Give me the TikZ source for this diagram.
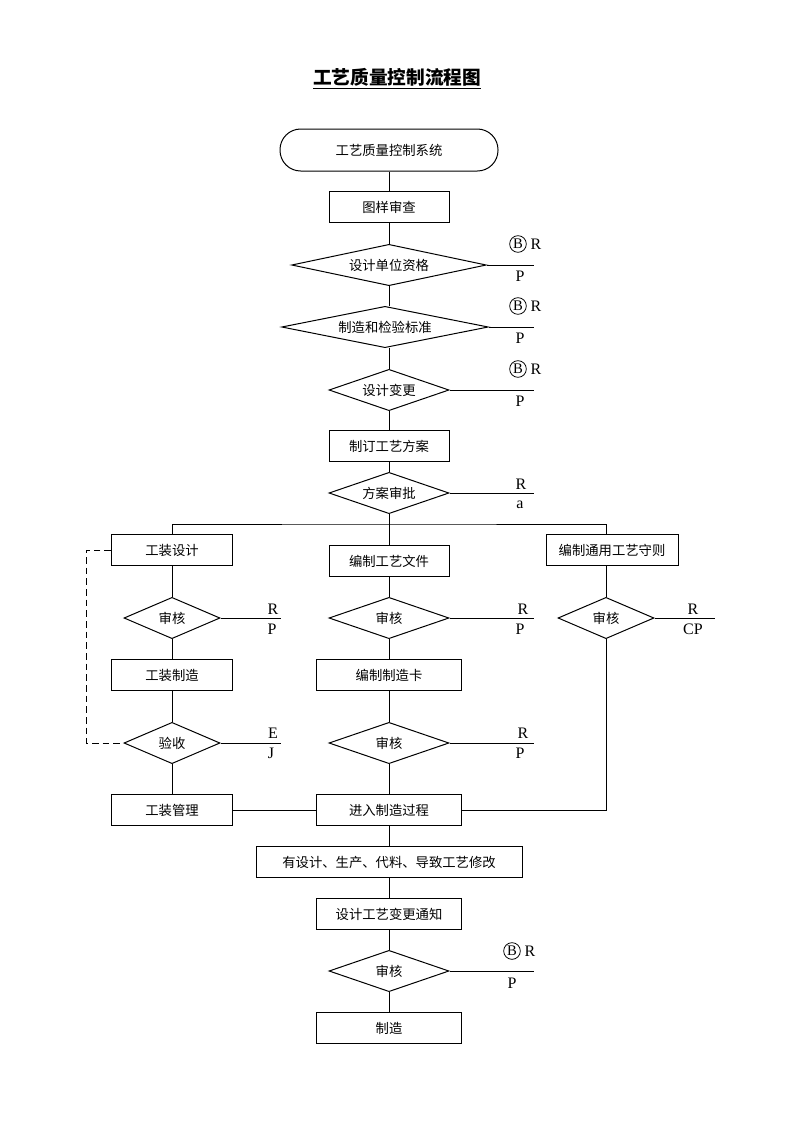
\documentclass[tikz,border=0pt]{standalone}
\usepackage{fontspec}
\setmainfont{Liberation Serif}
\newfontfamily\cjk{Noto Sans CJK SC}
\usetikzlibrary{shapes.geometric}
\begin{document}
\begin{tikzpicture}[x=0.75pt,y=-0.75pt,line width=0.75pt,
  box/.style={draw,rectangle,minimum height=23.25pt,inner sep=0pt,font=\cjk\fontsize{10}{12}\selectfont},
  dia/.style={draw,diamond,shape aspect=4,inner sep=0pt,minimum width=90pt,minimum height=31pt,font=\cjk\fontsize{10}{12}\selectfont},
  lbl/.style={inner sep=0pt,font=\fontsize{12}{14}\selectfont},
  bc/.style={draw,circle,inner sep=0pt,minimum size=12.5pt,line width=0.6pt,font=\fontsize{11}{12}\selectfont}]
\useasboundingbox (0,0) rectangle (793,1122);
% title
\node[font=\cjk\bfseries\fontsize{14}{16}\selectfont,inner sep=0pt] (title) at (397,79) {\underline{工艺质量控制流程图}};
% main column
\node[draw,rounded corners=15.5pt,minimum width=163.5pt,minimum height=31.5pt,inner sep=0pt,font=\cjk\fontsize{10}{12}\selectfont] (sys) at (389,150) {工艺质量控制系统};
\node[box,minimum width=90pt] (tyc) at (389,207) {图样审查};
\node[dia,minimum width=146pt] (d1) at (389,265) {设计单位资格};
\node[dia,minimum width=155pt] (d2) at (385,327) {制造和检验标准};
\node[dia] (d3) at (389,390) {设计变更};
\node[box,minimum width=90pt] (fa) at (389,446) {制订工艺方案};
\node[dia] (d4) at (389,493) {方案审批};
\coordinate (br) at (389,524);
% left column
\node[box,minimum width=90.75pt] (gzsj) at (172,550) {工装设计};
\node[dia,minimum width=72pt] (lsh) at (172,618) {审核};
\node[box,minimum width=90.75pt] (gzzz) at (172,675) {工装制造};
\node[dia,minimum width=72pt] (ys) at (172,743) {验收};
\node[box,minimum width=90.75pt] (gzgl) at (172,810) {工装管理};
\coordinate (dl) at (86,550);
% middle column
\node[box,minimum width=90pt] (wj) at (389,561) {编制工艺文件};
\node[dia] (msh1) at (389,618) {审核};
\node[box,minimum width=108.75pt] (zzk) at (389,675) {编制制造卡};
\node[dia] (msh2) at (389,743) {审核};
\node[box,minimum width=108.75pt] (jr) at (389,810) {进入制造过程};
% right column
\node[box,minimum width=99pt] (sz) at (612,550) {编制通用工艺守则};
\node[dia,minimum width=72pt] (rsh) at (606,618) {审核};
% bottom
\node[box,minimum width=199.5pt] (xg) at (389,862) {有设计、生产、代料、导致工艺修改};
\node[box,minimum width=108.75pt] (tz) at (389,914) {设计工艺变更通知};
\node[dia] (bsh) at (389,971) {审核};
\node[box,minimum width=108.75pt] (zz) at (389,1028) {制造};
% side line ends
\coordinate (e1) at (534,265);
\coordinate (e2) at (534,327);
\coordinate (e3) at (534,390);
\coordinate (e4) at (534,493);
\coordinate (e5) at (281,618);
\coordinate (e6) at (281,743);
\coordinate (e7) at (534,618);
\coordinate (e8) at (534,743);
\coordinate (e9) at (715,618);
\coordinate (e10) at (534,971);
% labels
\node[bc] (b1) at (518,244) {B}; \node[lbl] (r1) at (536,244) {R}; \node[lbl] (p1) at (520,276) {P};
\node[bc] (b2) at (518,306) {B}; \node[lbl] (r2) at (536,306) {R}; \node[lbl] (p2) at (520,338) {P};
\node[bc] (b3) at (518,369) {B}; \node[lbl] (r3) at (536,369) {R}; \node[lbl] (p3) at (520,401) {P};
\node[lbl] (r4) at (521,484) {R}; \node[lbl] (a4) at (520,505) {a};
\node[lbl] (r5) at (273,609) {R}; \node[lbl] (p5) at (272,629) {P};
\node[lbl] (r6) at (273,733) {E}; \node[lbl] (p6) at (271,753) {J};
\node[lbl] (r7) at (523,609) {R}; \node[lbl] (p7) at (520,629) {P};
\node[lbl] (r8) at (523,733) {R}; \node[lbl] (p8) at (520,753) {P};
\node[lbl] (r9) at (693,609) {R}; \node[lbl] (p9) at (693,629) {CP};
\node[bc] (b10) at (512,951) {B}; \node[lbl] (r10) at (530,951) {R}; \node[lbl] (p10) at (512,983) {P};
% connectors
\draw (sys) -- (tyc);
\draw (tyc) -- (d1);
\draw (d1) -- (d2.north -| d1.south);
\draw (d2.south -| d3.north) -- (d3);
\draw (d3) -- (fa);
\draw (fa) -- (d4);
\draw (d4) -- (br);
\draw (br) -- (wj);
\draw (gzsj.north) |- (br) -| (rsh.north |- sz.north);
\draw (gzsj) -- (lsh);
\draw (lsh) -- (gzzz);
\draw (gzzz) -- (ys);
\draw (ys) -- (gzgl);
\draw (gzgl) -- (jr);
\draw[dash pattern=on 5pt off 3pt] (gzsj.west) -- (dl) |- (ys.west);
\draw (wj) -- (msh1);
\draw (msh1) -- (zzk);
\draw (zzk) -- (msh2);
\draw (msh2) -- (jr);
\draw (rsh.north |- sz.south) -- (rsh);
\draw (rsh.south) |- (jr.east);
\draw (jr) -- (xg);
\draw (xg) -- (tz);
\draw (tz) -- (bsh);
\draw (bsh) -- (zz);
\draw (d1.east) -- (e1);
\draw (d2.east) -- (e2);
\draw (d3.east) -- (e3);
\draw (d4.east) -- (e4);
\draw (lsh.east) -- (e5);
\draw (ys.east) -- (e6);
\draw (msh1.east) -- (e7);
\draw (msh2.east) -- (e8);
\draw (rsh.east) -- (e9);
\draw (bsh.east) -- (e10);
\end{tikzpicture}
\end{document}
